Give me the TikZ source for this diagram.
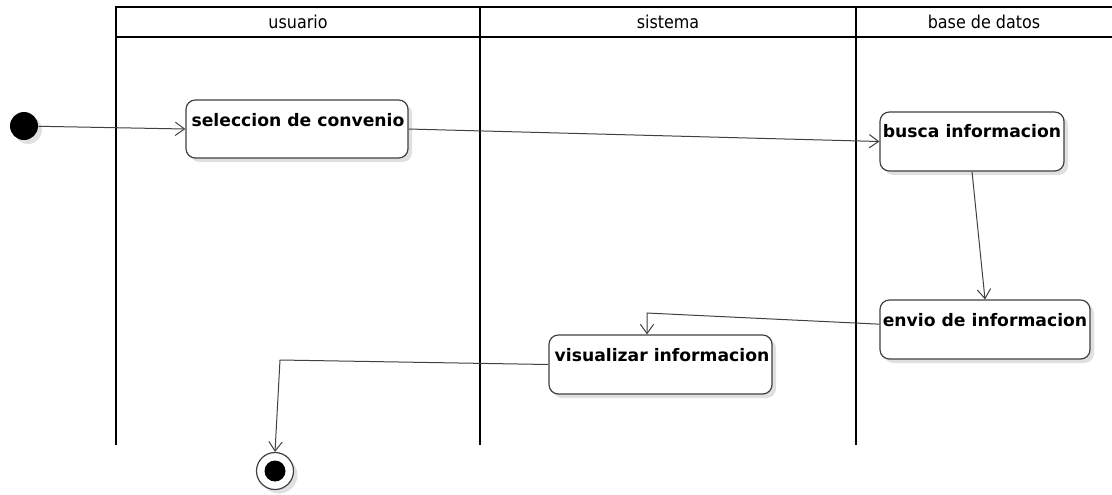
\documentclass[tikz,border=0pt]{standalone}
\usepackage{fontspec}
\newfontfamily\headfont{DejaVu Sans Condensed}
\newfontfamily\boxfont{DejaVu Sans}
\usetikzlibrary{arrows.meta,shadows}
\definecolor{edgegray}{HTML}{404040}
\tikzset{
  lane/.style={line width=1.6pt, black},
  headtext/.style={font=\headfont\fontsize{13.3}{14}\selectfont, inner sep=0pt, text=black},
  actbox/.style={draw=edgegray, line width=0.9pt, fill=white, rounded corners=7pt,
    drop shadow={shadow xshift=3pt, shadow yshift=-3pt, opacity=0.12, fill=black}},
  acttext/.style={font=\boxfont\bfseries\fontsize{12.9}{14}\selectfont, inner sep=0pt, text=black},
  flow/.style={draw=edgegray, line width=0.75pt, -{Straight Barb[length=7pt,width=10pt]}},
}
\begin{document}
\begin{tikzpicture}[x=0.75pt,y=-0.75pt]
\useasboundingbox (0,0) rectangle (1112,494);
% swimlanes
\draw[lane] (116,445) -- (116,7) -- (1112,7);
\draw[lane] (116,37) -- (1112,37);
\draw[lane] (480,7) -- (480,445);
\draw[lane] (856,7) -- (856,445);
\node[headtext] (h1) at (298,22) {usuario};
\node[headtext] (h2) at (668,22) {sistema};
\node[headtext] (h3) at (984,22) {base de datos};
% initial node
\node[circle, fill=black, minimum size=28*0.75pt, inner sep=0pt,
  drop shadow={shadow xshift=3pt, shadow yshift=-3pt, opacity=0.12, fill=black}] (init) at (24,126) {};
% activities
\node[actbox, minimum width=222*0.75pt, minimum height=58*0.75pt, inner sep=0pt] (sel) at (297,129) {};
\node[acttext, anchor=center] (selt) at (298,120) {seleccion de convenio};
\node[actbox, minimum width=184*0.75pt, minimum height=59*0.75pt, inner sep=0pt] (bus) at (972,141.5) {};
\node[acttext] (bust) at (972,131) {busca informacion};
\node[actbox, minimum width=210*0.75pt, minimum height=59*0.75pt, inner sep=0pt] (env) at (985,329.5) {};
\node[acttext] (envt) at (985,320) {envio de informacion};
\node[actbox, minimum width=223*0.75pt, minimum height=59*0.75pt, inner sep=0pt] (vis) at (660.5,364.5) {};
\node[acttext] (vist) at (662,355) {visualizar informacion};
% final node
\node[circle, draw=edgegray, line width=0.9pt, fill=white, minimum size=37*0.75pt, inner sep=0pt,
  drop shadow={shadow xshift=3pt, shadow yshift=-3pt, opacity=0.12, fill=black}] (fin) at (275,471) {};
\node[circle, fill=black, minimum size=21*0.75pt, inner sep=0pt] (fininner) at (fin) {};
% connectors
\coordinate (c1) at (647,313);
\coordinate (c2) at (280,360);
\draw[flow] (init) -- (sel.west);
\draw[flow] (sel.east) -- (bus.west);
\draw[flow] (bus.south) -- (env.north);
\draw[flow] ([yshift=4pt]env.west) -- (c1) -- (c1 |- vis.north);
\draw[flow] (vis.west) -- (c2) -- (fin.north);
\end{tikzpicture}
\end{document}
